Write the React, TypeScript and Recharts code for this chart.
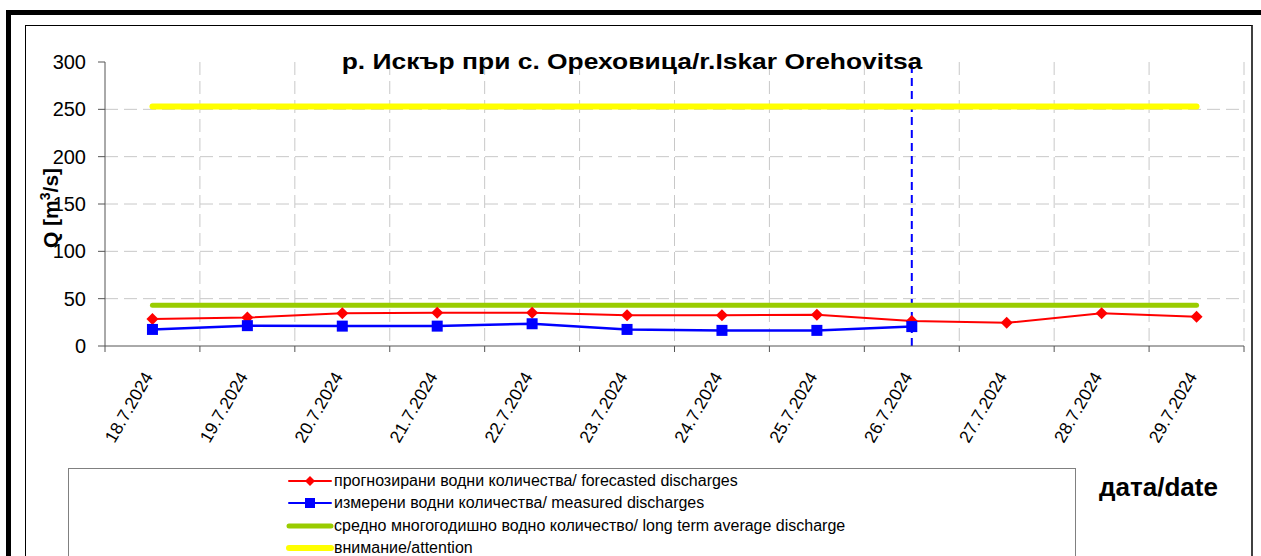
import React from 'react';
import {
  LineChart, Line, XAxis, YAxis, CartesianGrid, ReferenceLine,
} from 'recharts';

const dates = [
  '18.7.2024', '19.7.2024', '20.7.2024', '21.7.2024', '22.7.2024', '23.7.2024',
  '24.7.2024', '25.7.2024', '26.7.2024', '27.7.2024', '28.7.2024', '29.7.2024',
];
const forecasted = [28.5, 30, 34.5, 35, 35, 32.5, 32.5, 33, 26.5, 24.5, 34.5, 31];
const measured = [17.5, 21.5, 21, 21, 23.5, 17.5, 16.5, 16.5, 20.5, null, null, null];
const longTermAverage = [43, 43, 43, 43, 43, 43, 43, 43, 43, 43, 43, 43];
const attention = [253, 253, 253, 253, 253, 253, 253, 253, 253, 253, 253, 253];
const yTicks = [0, 50, 100, 150, 200, 250, 300];
const lastMeasuredDate = '26.7.2024';

const title = 'р. Искър при с. Ореховица/r.Iskar Orehovitsa';
const legendLabels = [
  'прогнозирани водни количества/ forecasted discharges',
  'измерени водни количества/ measured discharges',
  'средно многогодишно водно количество/ long term average discharge',
  'внимание/attention',
];

const data = dates.map((d, i) => ({
  date: d,
  forecasted: forecasted[i],
  measured: measured[i],
  average: longTermAverage[i],
  attention: attention[i],
}));

const W = 1261;
const H = 556;
const margin = { top: 62, right: 17, left: 45, bottom: 110 };
const Y_AXIS_W = 60;
const FONT = 'Arial, "Liberation Sans", sans-serif';

const Diamond = (props: any) => {
  const { cx, cy, index } = props;
  if (cx == null || cy == null) return <g key={`d-${index}`} />;
  const r = 6;
  return (
    <path key={`d-${index}`} d={`M${cx},${cy - r}L${cx + r},${cy}L${cx},${cy + r}L${cx - r},${cy}Z`} fill="#FF0000" />
  );
};

const Square = (props: any) => {
  const { cx, cy, index } = props;
  if (cx == null || cy == null) return <g key={`s-${index}`} />;
  const r = 5.5;
  return <rect key={`s-${index}`} x={cx - r} y={cy - r} width={r * 2} height={r * 2} fill="#0000FF" />;
};

const XTick = (props: any) => {
  const { x, y, payload, index } = props;
  const plotW = W - margin.left - Y_AXIS_W - margin.right;
  const half = plotW / dates.length / 2;
  return (
    <g>
      <line x1={x - half} y1={y} x2={x - half} y2={y + 6} stroke="#555" />
      {index === dates.length - 1 && <line x1={x + half} y1={y} x2={x + half} y2={y + 6} stroke="#555" />}
      <text
        transform={`translate(${x + 1},${y + 30.5}) rotate(-60)`}
        textAnchor="end"
        fontSize={17.5}
        fontFamily={FONT}
        fill="#000"
      >
        {payload.value}
      </text>
    </g>
  );
};

const LegendSymbol = ({ color, width, marker }: { color: string; width: number; marker?: 'diamond' | 'square' }) => (
  <svg width={48} height={12} style={{ display: 'block' }}>
    <line x1={3} y1={6} x2={45} y2={6} stroke={color} strokeWidth={width} strokeLinecap="round" />
    {marker === 'diamond' && <path d="M24,1L29,6L24,11L19,6Z" fill={color} />}
    {marker === 'square' && <rect x={19} y={1} width={10} height={10} fill={color} />}
  </svg>
);

const legendItems = [
  { color: '#FF0000', width: 2, marker: 'diamond' as const },
  { color: '#0000FF', width: 2, marker: 'square' as const },
  { color: '#99CC00', width: 5 },
  { color: '#FFFF00', width: 6 },
];

export default function App() {
  return (
    <div style={{ position: 'fixed', left: 0, top: 0, width: W, height: H, overflow: 'hidden', background: '#fff', fontFamily: FONT }}>
      {/* outer black frame */}
      <div style={{ position: 'absolute', left: 6, top: 10, width: W, height: 700, border: '5px solid #000' }} />
      {/* inner panel */}
      <div style={{ position: 'absolute', left: 25, top: 25, width: 1225, height: 700, borderLeft: '1px solid #000', borderTop: '1px solid #000', borderRight: '2px solid #404040' }} />
      {/* legend box */}
      <div style={{ position: 'absolute', left: 68, top: 468, width: 1006, height: 200, border: '1px solid #808080' }} />

      <div style={{ position: 'absolute', left: 0, top: 0 }}>
        <LineChart width={W} height={H} data={data} margin={margin}>
          <CartesianGrid
            stroke="#c8c8c8"
            strokeDasharray="13 6"
            horizontalCoordinatesGenerator={({ offset }: any) =>
              yTicks.slice(1, -1).map((v) => offset.top + offset.height * (1 - v / 300))
            }
            verticalCoordinatesGenerator={({ offset }: any) =>
              dates.map((_, i) => offset.left + ((i + 1) * offset.width) / dates.length)
            }
          />
          <XAxis
            dataKey="date"
            scale="band"
            height={100}
            stroke="#555"
            tickLine={false}
            tickSize={0}
            tickMargin={0}
            interval={0}
            tick={<XTick />}
          />
          <YAxis
            width={Y_AXIS_W}
            domain={[0, 300]}
            ticks={yTicks}
            stroke="#555"
            tickSize={7}
            tickMargin={12}
            tick={{ fontSize: 20, fill: '#000', fontFamily: FONT }}
          />
          <ReferenceLine x={lastMeasuredDate} stroke="#0000FF" strokeWidth={2} strokeDasharray="8 5" />
          <Line dataKey="attention" stroke="#FFFF00" strokeWidth={6} strokeLinecap="round" dot={false} isAnimationActive={false} />
          <Line dataKey="average" stroke="#99CC00" strokeWidth={5} strokeLinecap="round" dot={false} isAnimationActive={false} />
          <Line dataKey="forecasted" stroke="#FF0000" strokeWidth={2} dot={Diamond} activeDot={false} isAnimationActive={false} />
          <Line dataKey="measured" stroke="#0000FF" strokeWidth={2.5} dot={Square} activeDot={false} isAnimationActive={false} />
        </LineChart>
      </div>

      {/* title */}
      <div style={{ position: 'absolute', left: 632, top: 49, width: 0 }}>
        <div style={{ position: 'absolute', transform: 'translateX(-50%) scaleX(1.2)', fontWeight: 'bold', fontSize: 22, lineHeight: '26px', whiteSpace: 'nowrap' }}>
          {title}
        </div>
      </div>

      {/* y axis label */}
      <div style={{ position: 'absolute', left: 48, top: 208, width: 0, height: 0 }}>
        <div style={{ position: 'absolute', transform: 'translate(-50%, -50%) rotate(-90deg)', fontWeight: 'bold', fontSize: 21, whiteSpace: 'nowrap', lineHeight: '24px' }}>
          Q [m<sup style={{ fontSize: 14 }}>3</sup>/s]
        </div>
      </div>

      {/* x axis title */}
      <div style={{ position: 'absolute', left: 1099, top: 472, fontWeight: 'bold', fontSize: 26, lineHeight: '30px', whiteSpace: 'nowrap' }}>
        дата/date
      </div>

      {/* legend */}
      {legendItems.map((item, i) => (
        <div key={i} style={{ position: 'absolute', left: 286, top: 470 + i * 22.4, height: 22, display: 'flex', alignItems: 'center', fontSize: 16, lineHeight: '18px', whiteSpace: 'nowrap' }}>
          <LegendSymbol color={item.color} width={item.width} marker={item.marker} />
          <span>{legendLabels[i]}</span>
        </div>
      ))}
    </div>
  );
}
